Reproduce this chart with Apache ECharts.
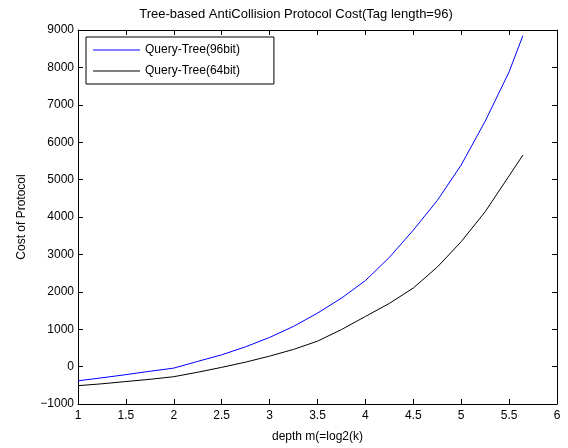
<!DOCTYPE html>
<html>
<head>
<meta charset="utf-8">
<script src="https://cdn.jsdelivr.net/npm/echarts@6/dist/echarts.min.js"></script>
<style>html,body{margin:0;padding:0;background:#fff;}#c{width:568px;height:448px;}</style>
</head>
<body>
<div id="c"></div>
<script>
const depth = [1, 1.25, 1.5, 1.75, 2, 2.25, 2.5, 2.75, 3, 3.25, 3.5, 3.75, 4, 4.25, 4.5, 4.75, 5, 5.25, 5.5, 5.644];
const cost96 = [-380, -300, -215, -125, -40, 140, 315, 530, 780, 1075, 1430, 1830, 2300, 2920, 3650, 4440, 5390, 6560, 7880, 8850];
const cost64 = [-510, -460, -400, -340, -270, -150, -20, 120, 280, 460, 680, 990, 1340, 1690, 2100, 2660, 3340, 4140, 5100, 5655];
const seriesNames = ['Query-Tree(96bit)', 'Query-Tree(64bit)'];
const xTicks = [1, 1.5, 2, 2.5, 3, 3.5, 4, 4.5, 5, 5.5, 6];
const yTicks = [-1000, 0, 1000, 2000, 3000, 4000, 5000, 6000, 7000, 8000, 9000];

const chart = echarts.init(document.getElementById('c'), null, {renderer: 'canvas'});
const font = 'Liberation Sans, Arial, sans-serif';
const axisBase = {
  axisLine: {show: true, onZero: false, lineStyle: {color: '#000', width: 1}},
  axisTick: {show: true, inside: true, length: 5, lineStyle: {color: '#000'}},
  splitLine: {show: false}
};
chart.setOption({
  animation: false,
  backgroundColor: '#fff',
  textStyle: {fontFamily: font},
  title: {
    text: 'Tree-based AntiCollision Protocol Cost(Tag length=96)',
    left: 291, textAlign: 'center', top: 3,
    textStyle: {fontSize: 13, fontWeight: 'normal', color: '#000', fontFamily: font}
  },
  legend: {
    orient: 'vertical', left: 86, top: 37,
    data: seriesNames,
    icon: 'rect',
    itemWidth: 47, itemHeight: 1, itemGap: 9,
    padding: [7, 34, 7, 7],
    borderColor: '#000', borderWidth: 1, backgroundColor: '#fff',
    textStyle: {fontSize: 12, color: '#000', fontFamily: font}
  },
  grid: {left: 78, right: 11, top: 30, bottom: 42},
  xAxis: [
    Object.assign({}, axisBase, {
      type: 'value', min: xTicks[0], max: xTicks[xTicks.length - 1], interval: 0.5,
      name: 'depth m(=log2(k)', nameLocation: 'middle', nameGap: 27,
      nameTextStyle: {fontSize: 12, color: '#000'},
      axisLabel: {fontSize: 12, color: '#000', margin: 6, formatter: v => String(v)}
    }),
    Object.assign({}, axisBase, {
      type: 'value', position: 'top', min: xTicks[0], max: xTicks[xTicks.length - 1], interval: 0.5,
      axisLabel: {show: false}
    })
  ],
  yAxis: [
    Object.assign({}, axisBase, {
      type: 'value', min: yTicks[0], max: yTicks[yTicks.length - 1], interval: 1000,
      name: 'Cost of Protocol', nameLocation: 'middle', nameGap: 50,
      nameTextStyle: {fontSize: 12, color: '#000'},
      axisLabel: {fontSize: 12, color: '#000', margin: 4, formatter: v => (v < 0 ? '\u2212' + Math.abs(v) : String(v))}
    }),
    Object.assign({}, axisBase, {
      type: 'value', position: 'right', min: yTicks[0], max: yTicks[yTicks.length - 1], interval: 1000,
      axisLabel: {show: false}
    })
  ],
  series: [
    {
      name: seriesNames[0], type: 'line', symbol: 'none', smooth: false,
      data: depth.map((d, i) => [d, cost96[i]]),
      lineStyle: {color: '#0000ff', width: 1}, itemStyle: {color: '#0000ff'}
    },
    {
      name: seriesNames[1], type: 'line', symbol: 'none', smooth: false,
      data: depth.map((d, i) => [d, cost64[i]]),
      lineStyle: {color: '#000000', width: 1}, itemStyle: {color: '#000000'}
    }
  ]
});
</script>
</body>
</html>
